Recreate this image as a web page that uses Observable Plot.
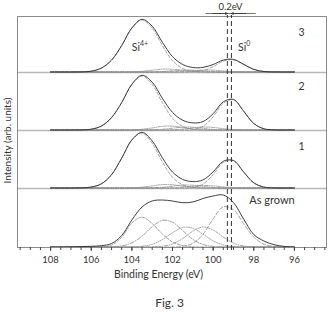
<!DOCTYPE html>
<html><head><meta charset="utf-8">
<script src="https://cdn.jsdelivr.net/npm/d3@7"></script>
<script src="https://cdn.jsdelivr.net/npm/@observablehq/plot@0.6"></script>
<style>body{margin:0;background:#fff}</style>
</head><body>
<script>
// Binding energy grid (eV)
const energy = [108,107.5,107,106.5,106,105.5,105,104.5,104,103.5,103,102.5,102,101.5,101,100.5,100,99.5,99,98.5,98,97.5,97,96.5,96];
const xTicks = [108,106,104,102,100,98,96];
const xMinorTicks = [109.5,109,108.5,108,107.5,107,106.5,106,105.5,105,104.5,104,103.5,103,102.5,102,101.5,101,100.5,100,99.5,99,98.5,98,97.5,97,96.5,96,95.5,95,94.5];
const panels = ["As grown","1","2","3"];
const shiftLines = [99.3, 99.1];

// Envelopes (arb. units)
const envelopeAsGrown = [0,0,0.2,0.4,0.7,1.3,3.5,11.5,27,40,46,47,46,44.3,45,48.5,51,52,44.5,28,12.5,6,2.3,0.6,0];
const envelope1 = [0,0,0,0.15,0.95,4.2,13.3,29.9,48.2,55.7,47.1,30.2,16,8.6,6.4,8.1,16.1,26.8,27.5,16.1,5.2,0.93,0.09,0,0];
const envelope2 = [0,0,0,0.1,0.8,4,12.5,27.5,45.8,54.7,47.8,31.8,17.6,9.8,7.1,8.4,16.3,28.2,30.6,18.9,6.5,1.2,0.1,0,0];
const envelope3 = [0,0,0,0.1,0.8,4,12,26.5,44.1,52.7,45.8,29.8,15.4,7.5,4.5,4.6,7.5,11.9,12.6,7.7,2.6,0.5,0.05,0,0];

// As grown fitted components
const ag1 = [0,0,0,0,0,0.2,2,9.7,24,29.8,23.4,13,5.1,1.4,0.3,0,0,0,0,0,0,0,0,0,0];
const ag2 = [0,0,0,0,0,0,0.2,1.1,4.1,10.8,20.2,26.6,24.8,16.4,7.7,2.5,0.6,0.1,0,0,0,0,0,0,0];
const ag3 = [0,0,0,0,0,0,0,0,0.1,0.7,2.7,7.4,14.2,19.5,18.8,12.8,6.2,2.1,0.5,0.1,0,0,0,0,0];
const ag4 = [0,0,0,0,0,0,0,0,0,0,0.1,0.8,3,8.5,15.8,20,17,9.9,3.9,1,0.2,0,0,0,0];
const ag5 = [0,0,0,0,0,0,0,0,0,0,0,0,0,0.7,3.6,12.7,28.2,40.2,37.3,23.3,9.9,2.8,0.6,0.1,0];

// Panel 1 components
const p1Si4 = [0,0,0,0.15,0.95,4.2,13.3,29.9,48,54.9,44.8,26.1,10.8,3.2,0.7,0.1,0,0,0,0,0,0,0,0,0];
const p1S3 = [0,0,0,0,0,0,0,0,0.2,0.8,2.1,3.4,3.2,1.8,0.6,0.1,0,0,0,0,0,0,0,0,0];
const p1S2 = [0,0,0,0,0,0,0,0,0,0,0.2,0.7,1.8,2.9,2.7,1.6,0.5,0.1,0,0,0,0,0,0,0];
const p1S1 = [0,0,0,0,0,0,0,0,0,0,0,0,0.2,0.7,1.7,2.5,2.1,1.1,0.3,0.1,0,0,0,0,0];
const p1Si0 = [0,0,0,0,0,0,0,0,0,0,0,0,0,0,0.6,3.9,13.4,25.6,27.2,16,5.2,0.9,0.1,0,0];

// Panel 2 components
const p2Si4 = [0,0,0,0.12,0.8,3.8,12.2,27.5,45.6,54,45.6,27.5,11.7,3.6,0.8,0.12,0,0,0,0,0,0,0,0,0];
const p2S3 = [0,0,0,0,0,0,0,0,0.15,0.72,2.08,3.65,3.84,2.43,0.92,0.21,0,0,0,0,0,0,0,0,0];
const p2S2 = [0,0,0,0,0,0,0,0,0,0,0.16,0.69,1.82,2.88,2.74,1.56,0.54,0.11,0,0,0,0,0,0,0];
const p2S1 = [0,0,0,0,0,0,0,0,0,0,0,0,0.22,0.87,2.08,2.97,2.55,1.31,0.41,0.08,0,0,0,0,0];
const p2Si0 = [0,0,0,0,0,0,0,0,0,0,0,0,0,0,0.54,3.57,13.2,26.8,30.2,18.8,6.47,1.24,0.12,0,0];

// Panel 3 components
const p3Si4 = [0,0,0,0.1,0.8,3.6,11.5,26.5,43.9,52,43.9,26.5,11.3,3.5,0.76,0.12,0,0,0,0,0,0,0,0,0];
const p3S3 = [0,0,0,0,0,0,0,0.02,0.16,0.69,1.82,2.88,2.74,1.56,0.54,0.11,0,0,0,0,0,0,0,0,0];
const p3S2 = [0,0,0,0,0,0,0,0,0,0,0.1,0.46,1.21,1.92,1.82,1.04,0.36,0.07,0,0,0,0,0,0,0];
const p3S1 = [0,0,0,0,0,0,0,0,0,0,0,0,0.1,0.46,1.21,1.92,1.82,1.04,0.36,0.07,0,0,0,0,0];
const p3Si0 = [0,0,0,0,0,0,0,0,0,0,0,0,0,0,0.22,1.44,5.32,10.8,12.2,7.58,2.61,0.5,0.05,0,0];

// stacking layout
const offsets = {"As grown": 0.5, "1": 59.5, "2": 117.5, "3": 175.5};
const separators = [59, 117, 175];

function rows(panel, name, values) {
  return values.map((v, i) => ({e: energy[i], y: offsets[panel] + v, key: panel + "-" + name}));
}

const envData = [
  ...rows("As grown", "env", envelopeAsGrown),
  ...rows("1", "env", envelope1),
  ...rows("2", "env", envelope2),
  ...rows("3", "env", envelope3)
];

const compGroups = [
  {dash: "2.5,1.5", data: [...rows("As grown","c1",ag1)]},
  {dash: "4,1.5,1,1.5", data: [...rows("As grown","c2",ag2)]},
  {dash: "1,1.3", data: [...rows("As grown","c3",ag3)]},
  {dash: "3,1.5,1,1.5,1,1.5", data: [...rows("As grown","c4",ag4)]},
  {dash: "4,2", data: [...rows("As grown","c5",ag5)]},
  {dash: "3,2", data: [...rows("1","si4",p1Si4), ...rows("2","si4",p2Si4), ...rows("3","si4",p3Si4),
                       ...rows("1","si0",p1Si0), ...rows("2","si0",p2Si0), ...rows("3","si0",p3Si0)]},
  {dash: "1.2,1.2", data: [...rows("1","s3",p1S3), ...rows("2","s3",p2S3), ...rows("3","s3",p3S3),
                           ...rows("1","s1",p1S1), ...rows("2","s1",p2S1), ...rows("3","s1",p3S1)]},
  {dash: "3,1.5,1,1.5", data: [...rows("1","s2",p1S2), ...rows("2","s2",p2S2), ...rows("3","s2",p3S2)]}
];

const compMarks = compGroups.map(g => Plot.line(g.data, {
  x: "e", y: "y", z: "key", curve: "catmull-rom",
  stroke: "#8a8a8a", strokeWidth: 0.8, strokeDasharray: g.dash
}));

const panelLabels = [
  {t: "3", e: 95.65, y: 215},
  {t: "2", e: 95.65, y: 161},
  {t: "1", e: 95.65, y: 101}
];

const chart = Plot.plot({
  width: 332, height: 317,
  marginTop: 16, marginBottom: 70, marginLeft: 17, marginRight: 6,
  style: {fontFamily: "Lato, 'Open Sans', sans-serif", fontSize: "10px", color: "#333", background: "#fff", overflow: "visible"},
  x: {domain: [109.63, 94.42]},
  y: {domain: [0, 231], axis: null},
  marks: [
    Plot.ruleY(separators, {stroke: "#b8b8b8", strokeWidth: 1.4}),
    ...compMarks,
    Plot.line(envData, {x: "e", y: "y", z: "key", curve: "catmull-rom", stroke: "#2a2a2a", strokeWidth: 0.9}),
    Plot.frame({stroke: "#8c8c8c"}),
    Plot.ruleX(shiftLines, {x: d => d, y1: -3, y2: 232, stroke: "#333", strokeWidth: 1, strokeDasharray: "5,3"}),
    Plot.ruleY([234], {x1: 100.35, x2: 97.88, stroke: "#555", strokeWidth: 0.8}),
    Plot.arrow([{a: 100.0, b: 99.3}, {a: 98.4, b: 99.1}], {x1: "a", x2: "b", y1: 234, y2: 234, headLength: 4, headAngle: 55, stroke: "#333", strokeWidth: 0.8}),
    Plot.text([{e: 99.15, y: 240.5}], {x: "e", y: "y", text: d => "0.2eV", fontSize: 9.5, fill: "#333"}),
    Plot.axisX({ticks: xTicks, tickSize: 4, tickPadding: 5, fontSize: 9.5, label: null, stroke: "#444", fill: "#333"}),
    Plot.axisX({ticks: xMinorTicks, tickSize: 3, tickFormat: () => "", label: null, stroke: "#444"}),
    // labels
    Plot.text([{e: 103.6, y: 200}], {x: "e", y: "y", text: d => "Si", textAnchor: "end", fontSize: 10.5, fill: "#333"}),
    Plot.text([{e: 103.6, y: 200}], {x: "e", y: "y", text: d => "4+", textAnchor: "start", fontSize: 7, dy: -4, fill: "#333"}),
    Plot.text([{e: 98.37, y: 200}], {x: "e", y: "y", text: d => "Si", textAnchor: "end", fontSize: 10.5, fill: "#333"}),
    Plot.text([{e: 98.37, y: 200}], {x: "e", y: "y", text: d => "0", textAnchor: "start", fontSize: 7, dy: -4, fill: "#333"}),
    Plot.text(panelLabels, {x: "e", y: "y", text: "t", fontSize: 10.5, fill: "#333"}),
    Plot.text([{e: 98.22, y: 47}], {x: "e", y: "y", text: d => "As grown", textAnchor: "start", fontSize: 11, fill: "#333"}),
    Plot.text(["Intensity (arb. units)"], {text: d => d, frameAnchor: "left", textAnchor: "middle", lineAnchor: "middle", rotate: -90, dx: -10, dy: 8.5, fontSize: 10, fill: "#333"}),
    Plot.text(["Binding Energy (eV)"], {text: d => d, frameAnchor: "bottom", textAnchor: "middle", lineAnchor: "middle", dx: -13.5, dy: 27, fontSize: 10.5, fill: "#333"}),
    Plot.text(["Fig. 3"], {text: d => d, frameAnchor: "bottom", textAnchor: "middle", lineAnchor: "middle", dx: -2.5, dy: 56, fontSize: 12, fill: "#333"})
  ]
});
document.body.append(chart);
</script>
</body></html>
